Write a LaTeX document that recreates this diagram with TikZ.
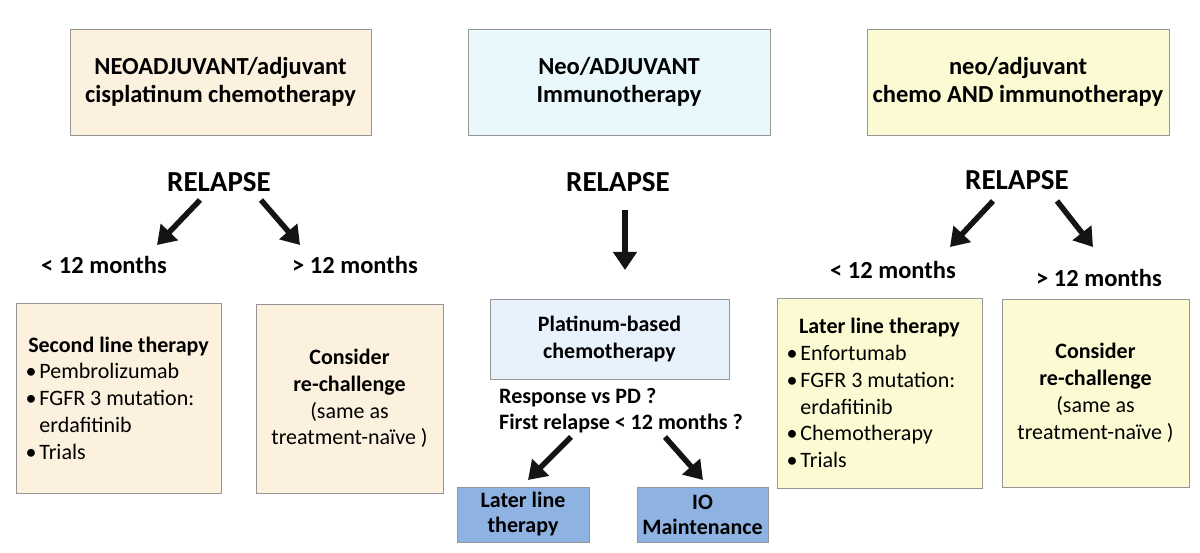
\documentclass[tikz,border=0pt]{standalone}
\usepackage{fontspec}
\setmainfont{Carlito}
\usetikzlibrary{arrows.meta,positioning}

\definecolor{beigebox}{RGB}{252,241,222}
\definecolor{cyanbox}{RGB}{232,248,252}
\definecolor{yellowbox}{RGB}{252,250,210}
\definecolor{paleblue}{RGB}{232,242,252}
\definecolor{midblue}{RGB}{142,179,226}
\definecolor{boxline}{RGB}{150,150,150}
\definecolor{ink}{RGB}{20,20,20}

\newcommand{\bulitem}[1]{\makebox[186pt][l]{\textbullet\hspace{3pt}#1}}
\newcommand{\bulcont}[1]{\makebox[186pt][l]{\phantom{\textbullet}\hspace{3pt}#1}}

\begin{document}
\begin{tikzpicture}[x=1pt, y=-1pt,
  box/.style={draw=boxline, line width=0.9pt, inner sep=0pt, align=center},
  head/.style={font=\bfseries\fontsize{24.5}{27.5}\selectfont},
  sub/.style={font=\bfseries\fontsize{22}{26}\selectfont},
  body/.style={font=\fontsize{22}{26.8}\selectfont},
  relapse/.style={font=\bfseries\fontsize{29}{30}\selectfont, inner sep=0pt},
  month/.style={font=\bfseries\fontsize{24.5}{26}\selectfont, inner sep=0pt},
  fat/.style={-{Triangle[length=18pt,width=23pt]}, line width=5.5pt, draw=ink}
]
  \useasboundingbox (0,0) rectangle (1200,553);

  % starting treatments
  \node[box, head, fill=beigebox, minimum width=301pt, minimum height=106pt] (cis) at (220.5,82)
    {NEOADJUVANT/adjuvant\\cisplatinum chemotherapy};
  \node[box, head, fill=cyanbox, minimum width=302pt, minimum height=106pt] (immuno) at (619,82)
    {Neo/ADJUVANT\\Immunotherapy};
  \node[box, head, fill=yellowbox, minimum width=302pt, minimum height=106pt] (combo) at (1018,82)
    {neo/adjuvant\\chemo AND immunotherapy};

  % relapse labels
  \node[relapse] (rel1) at (219,182) {RELAPSE};
  \node[relapse] (rel2) at (618,182) {RELAPSE};
  \node[relapse] (rel3) at (1017,180) {RELAPSE};

  \node[month] (lt1) at (104,265) {< 12 months};
  \node[month] (gt1) at (355,265) {> 12 months};
  \node[month] (lt3) at (893,270) {< 12 months};
  \node[month] (gt3) at (1099,278) {> 12 months};

  \coordinate (a1s) at (200,200); \coordinate (a1e) at (157,245);
  \coordinate (b1s) at (261,200); \coordinate (b1e) at (300,245);
  \coordinate (a2s) at (625,210); \coordinate (a2e) at (625,270);
  \coordinate (a3s) at (993,201); \coordinate (a3e) at (950,247);
  \coordinate (b3s) at (1057,201); \coordinate (b3e) at (1093,247);
  \draw[fat] (a1s) -- (a1e);
  \draw[fat] (b1s) -- (b1e);
  \draw[fat] (a2s) -- (a2e);
  \draw[fat] (a3s) -- (a3e);
  \draw[fat] (b3s) -- (b3e);

  % left column outcomes
  \node[box, body, fill=beigebox, minimum width=205pt, minimum height=190pt] (second) at (118.5,398)
    {\textbf{Second line therapy}\\\bulitem{Pembrolizumab}\\\bulitem{FGFR 3 mutation:}\\
     \bulcont{erdafitinib}\\\bulitem{Trials}};
  \node[box, body, fill=beigebox, minimum width=187pt, minimum height=189pt] (rechal1) at (349.5,398.5)
    {\textbf{Consider}\\\textbf{re-challenge}\\(same as\\treatment-naïve )};

  % middle column outcomes
  \node[box, sub, fill=paleblue, minimum width=239pt, minimum height=80pt,
    font=\bfseries\fontsize{22}{27}\selectfont] (platin) at (609.5,339)
    {Platinum-based\\chemotherapy};
  \node[sub, anchor=west, align=left, inner sep=0pt] (question) at (499,411)
    {Response vs PD ?\\First relapse < 12 months ?};
  \node[box, sub, fill=midblue, minimum width=132pt, minimum height=55pt,
    font=\bfseries\fontsize{22}{25}\selectfont] (laterio) at (523,514.5)
    {Later line\\therapy};
  \node[box, sub, fill=midblue, minimum width=131pt, minimum height=55pt,
    font=\bfseries\fontsize{22}{25}\selectfont] (maint) at (702.5,514.5)
    {IO\\Maintenance};
  \coordinate (a4s) at (571,437); \coordinate (a4e) at (528,480);
  \coordinate (b4s) at (665,437); \coordinate (b4e) at (703,480);
  \draw[fat] (a4s) -- (a4e);
  \draw[fat] (b4s) -- (b4e);

  % right column outcomes
  \node[box, body, fill=yellowbox, minimum width=205pt, minimum height=190pt] (later) at (879.5,393)
    {\textbf{Later line therapy}\\\bulitem{Enfortumab}\\\bulitem{FGFR 3 mutation:}\\
     \bulcont{erdafitinib}\\\bulitem{Chemotherapy}\\\bulitem{Trials}};
  \node[box, body, fill=yellowbox, minimum width=187pt, minimum height=188pt] (rechal3) at (1095.5,393)
    {\textbf{Consider}\\\textbf{re-challenge}\\(same as\\treatment-naïve )};
\end{tikzpicture}
\end{document}
